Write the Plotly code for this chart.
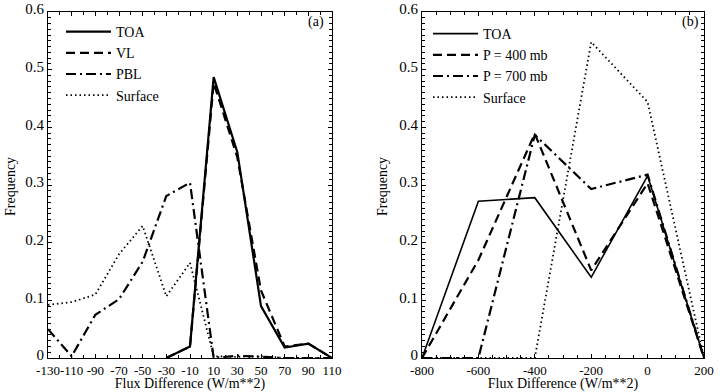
import plotly.graph_objects as go

# ---- Panel (a) data ----
a_ticks = [-130, -110, -90, -70, -50, -30, -10, 10, 30, 50, 70, 90, 110]
a_tick_text = ["-130", "-110", "-90", "-70", "-50", "-30", "-10", "10", "30", "50", "70", "90", "110"]
a_toa_x = [-30, -10, 10, 30, 50, 70, 90, 110]
a_toa_y = [0.0, 0.02, 0.487, 0.357, 0.09, 0.018, 0.025, 0.0]
a_vl_x = [-30, -10, 10, 30, 50, 70, 90, 110]
a_vl_y = [0.0, 0.02, 0.477, 0.348, 0.117, 0.02, 0.025, 0.0]
a_pbl_x = [-130, -110, -90, -70, -50, -30, -10, 10, 30, 50, 70, 90, 110]
a_pbl_y = [0.05, 0.003, 0.075, 0.102, 0.167, 0.281, 0.304, 0.0, 0.004, 0.002, 0.0, 0.0, 0.0]
a_sfc_x = [-130, -110, -90, -70, -50, -30, -10, 10, 30, 50, 70, 90, 110]
a_sfc_y = [0.092, 0.097, 0.11, 0.18, 0.229, 0.107, 0.165, 0.003, 0.002, 0.003, 0.0, 0.0, 0.0]

# ---- Panel (b) data ----
b_ticks = [-800, -600, -400, -200, 0, 200]
b_tick_text = ["-800", "-600", "-400", "-200", "0", "200"]
b_x = [-800, -600, -400, -200, 0, 200]
b_toa = [0.0, 0.272, 0.278, 0.14, 0.316, 0.0]
b_400 = [0.0, 0.17, 0.389, 0.152, 0.303, 0.0]
b_700 = [0.0, 0.0, 0.387, 0.293, 0.318, 0.0]
b_sfc = [0.0, 0.0, 0.0, 0.548, 0.444, 0.0]

y_ticks = [0, 0.1, 0.2, 0.3, 0.4, 0.5, 0.6]
y_text = ["0", "0.1", "0.2", "0.3", "0.4", "0.5", "0.6"]

FONT = "Liberation Serif"
DASH = "9px,5px"
DASHDOT = "10px,4px,2px,4px"
DOT = "1.5px,3px"

# layout geometry (pixels)
W, H = 720, 392
ML, MR, MT, MB = 0, 16, 12, 34
PW, PH = W - ML - MR, H - MT - MB

def px(x):
    return (x - ML) / PW

def py(y):
    return (H - MB - y) / PH

fig = go.Figure()

def add(x, y, name, dash, width, xa, ya, legend):
    fig.add_trace(go.Scatter(x=x, y=y, name=name, mode="lines",
                             line=dict(color="black", dash=dash, width=width),
                             xaxis=xa, yaxis=ya, legend=legend))

add(a_toa_x, a_toa_y, "TOA", "solid", 2.2, "x", "y", "legend")
add(a_vl_x, a_vl_y, "VL", DASH, 2.2, "x", "y", "legend")
add(a_pbl_x, a_pbl_y, "PBL", DASHDOT, 2.2, "x", "y", "legend")
add(a_sfc_x, a_sfc_y, "Surface", DOT, 1.8, "x", "y", "legend")

add(b_x, b_toa, "TOA", "solid", 1.6, "x2", "y2", "legend2")
add(b_x, b_400, "P = 400 mb", DASH, 2.2, "x2", "y2", "legend2")
add(b_x, b_700, "P = 700 mb", DASHDOT, 2.2, "x2", "y2", "legend2")
add(b_x, b_sfc, "Surface", DOT, 1.8, "x2", "y2", "legend2")

axis_common = dict(showline=True, linecolor="black", linewidth=1, mirror="ticks",
                   ticks="inside", ticklen=4, tickcolor="black", showgrid=False,
                   zeroline=False, automargin=False)
xfont = dict(family=FONT, size=13, color="black")
yfont = dict(family=FONT, size=15, color="black")
title_font = dict(family=FONT, size=14, color="black")

fig.update_layout(
    width=W, height=H,
    margin=dict(l=ML, r=MR, t=MT, b=MB, pad=0, autoexpand=False),
    paper_bgcolor="white", plot_bgcolor="white",
    font=dict(family=FONT, size=13, color="black"),
    xaxis=dict(domain=[px(48), px(332)], range=[-130, 110], tickvals=a_ticks, ticktext=a_tick_text,
               tickangle=0, tickfont=xfont,
               minor=dict(dtick=10, tick0=-130, ticks="inside", ticklen=3, tickcolor="black"),
               title=dict(text="Flux Difference (W/m**2)", font=title_font, standoff=4),
               anchor="y", **axis_common),
    yaxis=dict(domain=[0, 1], range=[0, 0.6], tickvals=y_ticks, ticktext=y_text,
               tickfont=yfont, ticklabelshift=-3,
               minor=dict(dtick=0.01, ticks="inside", ticklen=3, tickcolor="black"),
               anchor="x", **axis_common),
    xaxis2=dict(domain=[px(422), 1], range=[-800, 200], tickvals=b_ticks, ticktext=b_tick_text,
                tickangle=0, tickfont=xfont,
                minor=dict(dtick=50, tick0=-800, ticks="inside", ticklen=3, tickcolor="black"),
                title=dict(text="Flux Difference (W/m**2)", font=title_font, standoff=4),
                anchor="y2", **axis_common),
    yaxis2=dict(domain=[0, 1], range=[0, 0.6], tickvals=y_ticks, ticktext=y_text,
                tickfont=yfont, ticklabelshift=-3,
                minor=dict(dtick=0.01, ticks="inside", ticklen=3, tickcolor="black"),
                anchor="x2", **axis_common),
    legend=dict(x=px(61), y=py(16), xanchor="left", yanchor="top", bgcolor="rgba(0,0,0,0)",
                font=dict(family=FONT, size=14), itemwidth=45, tracegroupgap=0),
    legend2=dict(x=px(428), y=py(18), xanchor="left", yanchor="top", bgcolor="rgba(0,0,0,0)",
                 font=dict(family=FONT, size=14), itemwidth=45, tracegroupgap=0),
    annotations=[
        dict(text="(a)", x=px(316), y=py(22), xref="paper", yref="paper", showarrow=False,
             xanchor="center", yanchor="middle", font=dict(family=FONT, size=14)),
        dict(text="(b)", x=px(690), y=py(22), xref="paper", yref="paper", showarrow=False,
             xanchor="center", yanchor="middle", font=dict(family=FONT, size=14)),
        dict(text="Frequency", x=px(10), y=py(187), xref="paper", yref="paper", showarrow=False,
             textangle=-90, xanchor="center", yanchor="middle", font=title_font),
        dict(text="Frequency", x=px(382), y=py(187), xref="paper", yref="paper", showarrow=False,
             textangle=-90, xanchor="center", yanchor="middle", font=title_font),
    ],
)

fig.write_html("out.html", config={"displayModeBar": False},
               post_script="document.body.style.margin='0px';")
